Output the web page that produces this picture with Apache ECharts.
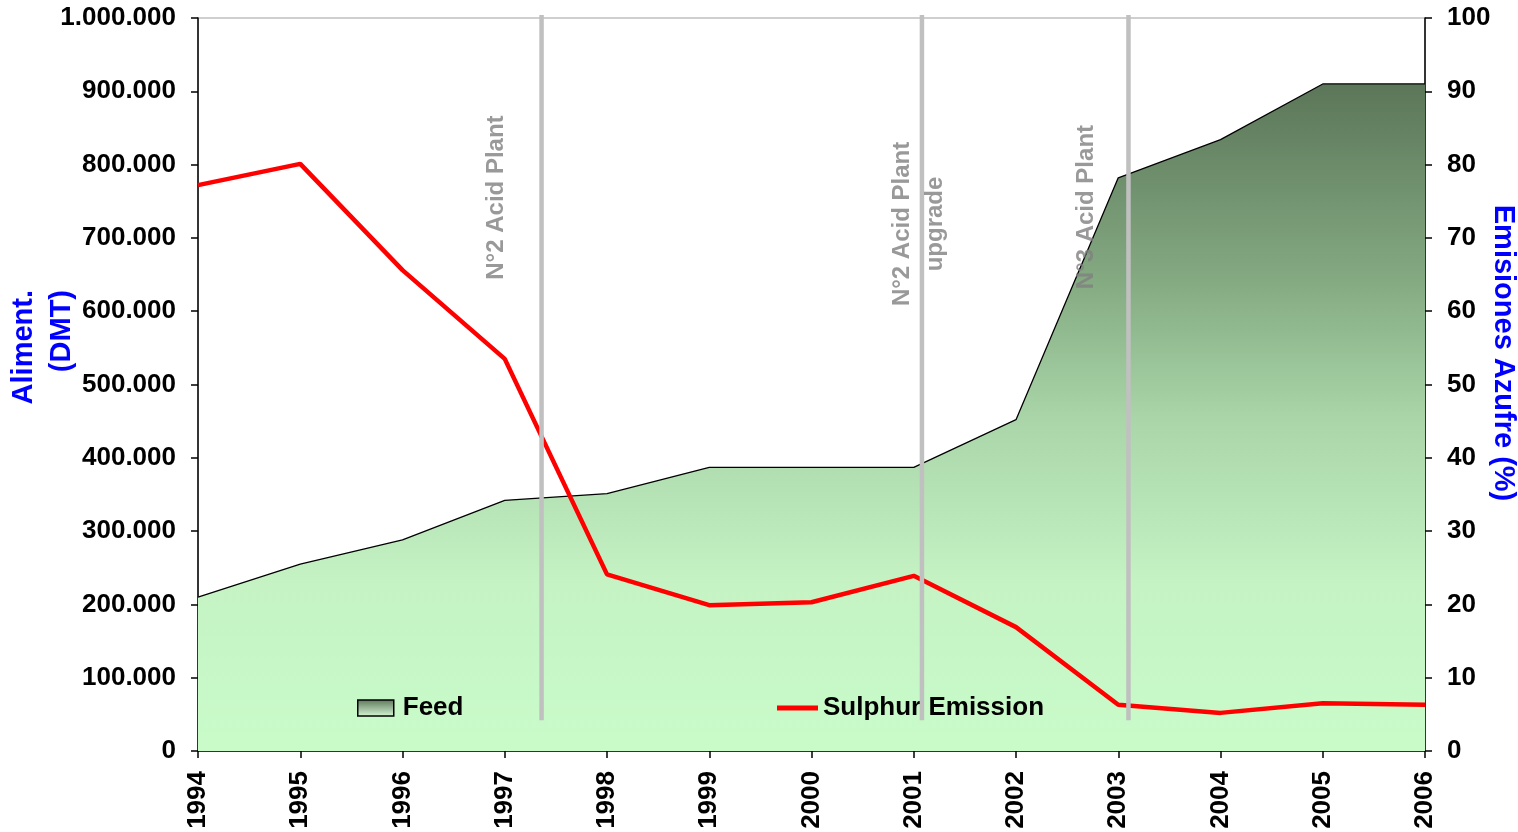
<!DOCTYPE html>
<html>
<head>
<meta charset="utf-8">
<script src="https://cdn.jsdelivr.net/npm/echarts@6/dist/echarts.min.js"></script>
<style>
html,body{margin:0;padding:0;background:#fff;}
#chart{width:1518px;height:832px;}
</style>
</head>
<body>
<div id="chart"></div>
<script>
// ---- data ----
const years = [1994,1995,1996,1997,1998,1999,2000,2001,2002,2003,2004,2005,2006];
const feed = [210000,255000,288000,342000,351000,387000,387000,387000,452000,782000,834000,910000,910000];
const sulphur = [77.2,80.1,65.6,53.5,24.1,19.9,20.3,23.9,16.9,6.3,5.2,6.5,6.3];
const eventYears = [1997.36, 2001.08, 2003.1];
const eventSpan = [42000, 1004000];
const eventLabels = ['N°2 Acid Plant', 'N°2 Acid Plant\nupgrade', 'N°3 Acid Plant'];
const eventLabelPos = [[1996.914, 755000], [2001.046, 719000], [2002.685, 742000]];
const seriesNames = ['Feed', 'Sulphur Emission'];
const leftAxisName = 'Aliment.\n(DMT)';
const rightAxisName = 'Emisiones Azufre (%)';

const FONT = '"Liberation Sans", Arial, sans-serif';
const areaGrad = new echarts.graphic.LinearGradient(0,0,0,1,[
  {offset:0, color:'#5b7658'},
  {offset:0.3, color:'#85ab83'},
  {offset:0.5, color:'#a9d5a8'},
  {offset:0.75, color:'#c5f3c4'},
  {offset:1, color:'#c9fbc9'}
]);
const legendGrad = new echarts.graphic.LinearGradient(0,0,0,1,[
  {offset:0, color:'#5b7658'},
  {offset:1, color:'#d8f8d8'}
]);

const series = [
  {
    name: seriesNames[0], type:'line', yAxisIndex:0, z:1,
    data: years.map((y,i)=>[y, feed[i]]),
    symbol:'none', color:'#000',
    lineStyle:{color:'#000', width:1.3},
    areaStyle:{color:areaGrad, opacity:1}
  },
  {
    name: seriesNames[1], type:'line', yAxisIndex:1, z:3,
    data: years.map((y,i)=>[y, sulphur[i]]),
    symbol:'none', color:'#ff0000',
    lineStyle:{color:'#ff0000', width:4.5}
  }
];
eventYears.forEach((x)=>{
  series.push({
    type:'line', yAxisIndex:0, z:10, clip:false, silent:true,
    data: eventSpan.map(v=>[x, v]),
    symbol:'none', lineStyle:{color:'#c0c0c0', width:4.5}
  });
});
series.push({
  type:'scatter', yAxisIndex:0, z:11, silent:true,
  symbolSize:1, itemStyle:{color:'rgba(0,0,0,0)'},
  data: eventLabelPos.map((p,i)=>({value:p, label:{formatter:eventLabels[i]}})),
  label:{
    show:true, position:'inside', rotate:90,
    align:'center', verticalAlign:'middle',
    color:'#7f7f7f', fontFamily:FONT, fontWeight:'bold', fontSize:24, lineHeight:33
  }
});

const chart = echarts.init(document.getElementById('chart'), null, {renderer:'canvas'});
chart.setOption({
  animation:false,
  backgroundColor:'#fff',
  grid:{left:198, right:93, top:18, bottom:81, show:true, borderColor:'#c0c0c0', borderWidth:1.5, backgroundColor:'transparent'},
  xAxis:{
    type:'value', min:1994, max:2006, interval:1,
    axisLine:{show:true, lineStyle:{color:'#000', width:1.5}},
    axisTick:{show:true, length:7, lineStyle:{color:'#000', width:1.5}},
    splitLine:{show:false},
    axisLabel:{rotate:90, margin:20, color:'#000', fontFamily:FONT, fontWeight:'bold', fontSize:26,
      formatter:v=>String(Math.round(v))}
  },
  yAxis:[
    {
      type:'value', min:0, max:1000000, interval:100000, position:'left',
      axisLine:{show:true, lineStyle:{color:'#000', width:1.5}},
      axisTick:{show:true, length:7, lineStyle:{color:'#000', width:1.5}},
      splitLine:{show:false},
      axisLabel:{margin:22, color:'#000', fontFamily:FONT, fontWeight:'bold', fontSize:26,
        formatter:v=>String(v).replace(/\B(?=(\d{3})+(?!\d))/g,'.')}
    },
    {
      type:'value', min:0, max:100, interval:10, position:'right',
      axisLine:{show:true, lineStyle:{color:'#000', width:1.5}},
      axisTick:{show:true, length:7, lineStyle:{color:'#000', width:1.5}},
      splitLine:{show:false},
      axisLabel:{margin:22, color:'#000', fontFamily:FONT, fontWeight:'bold', fontSize:26}
    }
  ],
  legend:[
    {
      left:357, top:693, padding:0, itemWidth:36, itemHeight:16,
      data:[{name:seriesNames[0], icon:'rect',
        itemStyle:{color:legendGrad, borderColor:'#000', borderWidth:1.5}}],
      textStyle:{color:'#000', fontFamily:FONT, fontWeight:'bold', fontSize:26, lineHeight:30, padding:[0,0,0,4]}
    },
    {
      left:777, top:693, padding:0, itemWidth:41, itemHeight:5,
      data:[{name:seriesNames[1], icon:'rect', itemStyle:{color:'#ff0000', borderWidth:0}}],
      textStyle:{color:'#000', fontFamily:FONT, fontWeight:'bold', fontSize:26, lineHeight:30}
    }
  ],
  graphic:[
    {type:'text', x:43, y:290, rotation:Math.PI/2, silent:true,
      style:{text:leftAxisName, align:'right', verticalAlign:'middle', fill:'#0000ff',
        font:'bold 29px ' + FONT, lineHeight:38}},
    {type:'text', x:1503, y:353, rotation:-Math.PI/2, silent:true,
      style:{text:rightAxisName, align:'center', verticalAlign:'middle', fill:'#0000ff',
        font:'bold 29px ' + FONT}}
  ],
  series: series
});
</script>
</body>
</html>
